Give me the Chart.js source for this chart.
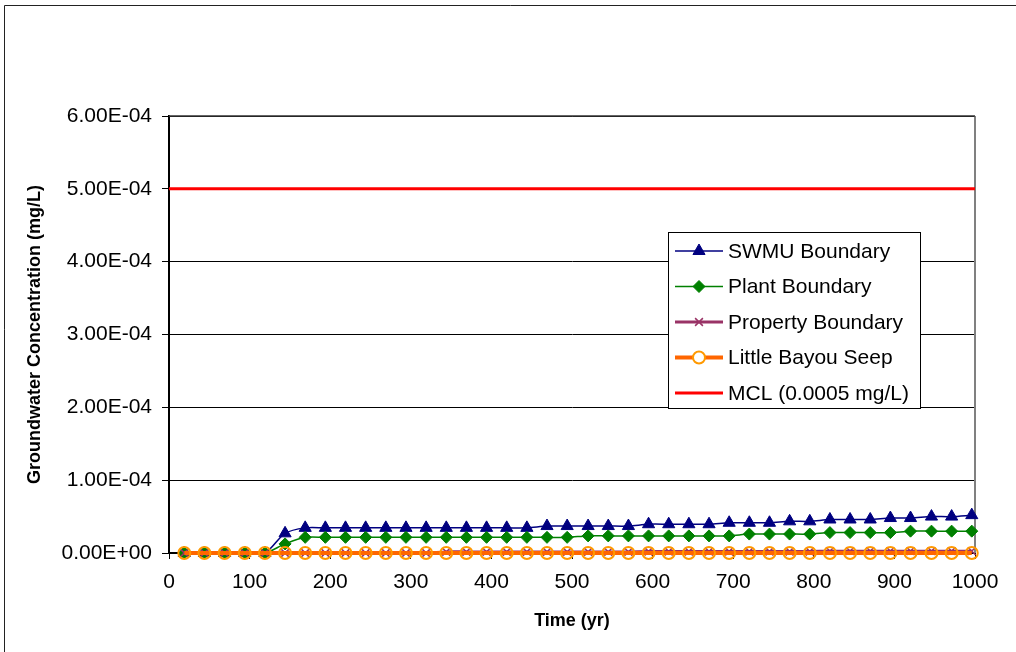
<!DOCTYPE html>
<html>
<head>
<meta charset="utf-8">
<script src="https://cdn.jsdelivr.net/npm/chart.js@4.4.1/dist/chart.umd.min.js"></script>
<style>
  html, body { margin: 0; padding: 0; background: #fff; }
  canvas { display: block; }
</style>
</head>
<body>
<canvas id="c" width="1016" height="652"></canvas>
<script>
// ---- data ----
const times = [19, 44, 69, 94, 119, 144, 169, 194, 219, 244, 269, 294, 319, 344, 369, 394, 419, 444, 469, 494,
               520, 545, 570, 595, 620, 645, 670, 695, 720, 745, 770, 795, 820, 845, 870, 895, 920, 946, 971, 996];
const swmuBoundary = [0, 0, 0, 0, 0, 2.7e-5,
  3.45e-5, 3.45e-5, 3.45e-5, 3.45e-5, 3.45e-5, 3.45e-5, 3.45e-5, 3.45e-5, 3.45e-5, 3.45e-5, 3.45e-5, 3.45e-5,
  3.7e-5, 3.7e-5, 3.7e-5, 3.7e-5, 3.7e-5,
  3.95e-5, 3.95e-5, 3.95e-5, 3.95e-5,
  4.15e-5, 4.15e-5, 4.15e-5,
  4.35e-5, 4.35e-5,
  4.6e-5, 4.6e-5, 4.6e-5,
  4.8e-5, 4.8e-5,
  5.0e-5, 5.0e-5,
  5.2e-5];
const plantBoundary = [0, 0, 0, 0, 0, 1.25e-5,
  2.15e-5, 2.15e-5, 2.15e-5, 2.15e-5, 2.15e-5, 2.15e-5, 2.15e-5, 2.15e-5, 2.15e-5, 2.15e-5, 2.15e-5, 2.15e-5, 2.15e-5, 2.15e-5,
  2.35e-5, 2.35e-5, 2.35e-5, 2.35e-5, 2.35e-5, 2.35e-5, 2.35e-5, 2.35e-5,
  2.6e-5, 2.6e-5, 2.6e-5, 2.6e-5,
  2.8e-5, 2.8e-5, 2.8e-5, 2.8e-5,
  3.0e-5, 3.0e-5, 3.0e-5, 3.0e-5];
const propertyBoundary = [0, 0, 0, 0, 0, 0, 0, 0, 0, 0, 0, 0, 0,
  1.5e-6, 1.5e-6, 1.5e-6, 1.5e-6, 1.5e-6, 1.5e-6, 1.5e-6, 1.5e-6, 1.5e-6, 1.5e-6,
  2e-6, 2e-6, 2e-6, 2e-6, 2e-6, 2e-6, 2e-6, 2e-6, 2e-6,
  2.5e-6, 2.5e-6, 2.5e-6, 2.5e-6, 2.5e-6, 2.5e-6, 2.5e-6, 2.5e-6];
const littleBayouSeep = [0, 0, 0, 0, 0, 0, 0, 0, 0, 0, 0, 0, 0, 0, 0, 0, 0, 0, 0, 0,
  0, 0, 0, 0, 0, 0, 0, 0, 0, 0, 0, 0, 0, 0, 0, 0, 0, 0, 0, 0];
const mclTimes = [0, 1000];
const mclValues = [0.0005, 0.0005];
const seriesNames = ['SWMU Boundary', 'Plant Boundary', 'Property Boundary', 'Little Bayou Seep', 'MCL (0.0005 mg/L)'];
const xTitle = 'Time (yr)';
const yTitle = 'Groundwater Concentration (mg/L)';

const FONT = "'Liberation Sans', Arial, sans-serif";

function pts(xs, ys) { return xs.map((x, i) => ({ x: x, y: ys[i] })); }
function fmtExp(v) {
  const s = Number(v).toExponential(2);
  const parts = s.split('e');
  const sign = parts[1][0];
  const d = parts[1].slice(1).padStart(2, '0');
  return parts[0] + 'E' + sign + d;
}

const datasets = [
  { label: seriesNames[0], data: pts(times, swmuBoundary), borderColor: '#000080', backgroundColor: '#000080',
    borderWidth: 1.5, pointStyle: 'triangle', pointRadius: 7, pointBorderWidth: 1, tension: 0.3, order: 5, clip: false },
  { label: seriesNames[1], data: pts(times, plantBoundary), borderColor: '#008000', backgroundColor: '#008000',
    borderWidth: 1.5, pointStyle: 'rectRot', pointRadius: 6, pointBorderWidth: 1, tension: 0.3, order: 4, clip: false },
  { label: seriesNames[2], data: pts(times, propertyBoundary), borderColor: '#993366', backgroundColor: '#993366',
    borderWidth: 3, pointStyle: 'crossRot', pointRadius: 5.5, pointBorderWidth: 1.5, tension: 0.3, order: 3, clip: false },
  { label: seriesNames[3], data: pts(times, littleBayouSeep), borderColor: '#FF6600', backgroundColor: 'rgba(0,0,0,0)',
    pointBorderColor: '#FF9900', borderWidth: 4, pointStyle: 'circle', pointRadius: 6, pointBorderWidth: 2, tension: 0.3, order: 2, clip: false },
  { label: seriesNames[4], data: pts(mclTimes, mclValues), borderColor: '#FF0000', backgroundColor: '#FF0000',
    borderWidth: 3, pointRadius: 0, order: 1, clip: false }
];

function drawMarker(ctx, style, x, y, r, fill, stroke, lw) {
  ctx.save();
  ctx.beginPath();
  ctx.lineWidth = lw;
  ctx.strokeStyle = stroke;
  ctx.fillStyle = fill;
  if (style === 'triangle') {
    ctx.moveTo(x, y - r);
    ctx.lineTo(x + r * 0.866, y + r * 0.5);
    ctx.lineTo(x - r * 0.866, y + r * 0.5);
    ctx.closePath(); ctx.fill(); ctx.stroke();
  } else if (style === 'rectRot') {
    ctx.moveTo(x, y - r); ctx.lineTo(x + r, y); ctx.lineTo(x, y + r); ctx.lineTo(x - r, y);
    ctx.closePath(); ctx.fill(); ctx.stroke();
  } else if (style === 'crossRot') {
    const d = r * 0.7071;
    ctx.moveTo(x - d, y - d); ctx.lineTo(x + d, y + d);
    ctx.moveTo(x + d, y - d); ctx.lineTo(x - d, y + d);
    ctx.stroke();
  } else if (style === 'circle') {
    ctx.arc(x, y, r, 0, Math.PI * 2);
    ctx.fillStyle = '#fff'; ctx.fill(); ctx.stroke();
  }
  ctx.restore();
}

const framePlugin = {
  id: 'frame',
  beforeDraw(chart) {
    const ctx = chart.ctx;
    ctx.save();
    ctx.fillStyle = '#fff';
    ctx.fillRect(0, 0, chart.width, chart.height);
    ctx.strokeStyle = '#222';
    ctx.lineWidth = 1;
    ctx.beginPath();
    ctx.moveTo(4.5, 1000); ctx.lineTo(4.5, 5.5); ctx.lineTo(1100, 5.5);
    ctx.stroke();
    ctx.restore();
  },
  beforeDatasetsDraw(chart) {
    const ctx = chart.ctx, a = chart.chartArea;
    ctx.save();
    ctx.strokeStyle = '#808080';
    ctx.lineWidth = 2;
    ctx.beginPath();
    ctx.moveTo(a.right, a.top); ctx.lineTo(a.right, a.bottom);
    ctx.stroke();
    ctx.strokeStyle = '#333';
    ctx.lineWidth = 1.5;
    ctx.beginPath();
    ctx.moveTo(a.left, a.top); ctx.lineTo(a.right, a.top);
    ctx.stroke();
    ctx.restore();
  }
};

const legendPlugin = {
  id: 'boxLegend',
  afterDraw(chart) {
    const ctx = chart.ctx;
    const bx = 668, by = 232, bw = 252, bh = 176;
    ctx.save();
    ctx.fillStyle = '#fff';
    ctx.fillRect(bx, by, bw, bh);
    ctx.strokeStyle = '#000';
    ctx.lineWidth = 1;
    ctx.strokeRect(bx + 0.5, by + 0.5, bw, bh);
    const rows = [251, 286.5, 322, 357.5, 393];
    chart.data.datasets.forEach((ds, i) => {
      const y = rows[i];
      ctx.strokeStyle = ds.borderColor;
      ctx.lineWidth = ds.borderWidth;
      ctx.beginPath();
      ctx.moveTo(675, y); ctx.lineTo(723, y);
      ctx.stroke();
      if (ds.pointRadius > 0) {
        drawMarker(ctx, ds.pointStyle, 699, y, ds.pointRadius,
          ds.backgroundColor, ds.pointBorderColor || ds.borderColor, ds.pointBorderWidth);
      }
      ctx.fillStyle = '#000';
      ctx.font = '21px ' + FONT;
      ctx.textAlign = 'left';
      ctx.textBaseline = 'middle';
      ctx.fillText(ds.label, 728, y + 1);
    });
    ctx.restore();
  }
};

new Chart(document.getElementById('c'), {
  type: 'line',
  data: { datasets: datasets },
  plugins: [framePlugin, legendPlugin],
  options: {
    responsive: false,
    animation: false,
    devicePixelRatio: 1,
    layout: { padding: { top: 116, right: 41, left: 0, bottom: 0 } },
    plugins: { legend: { display: false }, tooltip: { enabled: false } },
    elements: { line: { cubicInterpolationMode: 'default' } },
    scales: {
      x: {
        type: 'linear', min: 0, max: 1000,
        afterFit(s) { s.height = 99; },
        ticks: { stepSize: 100, autoSkip: false, maxRotation: 0, color: '#000', padding: 11,
                 callback: (v) => String(v),
                 font: { family: FONT, size: 21 } },
        grid: { drawOnChartArea: false, drawTicks: true, tickLength: 6, color: '#000', lineWidth: 1 },
        border: { display: true, color: '#000', width: 2 },
        title: { display: true, text: xTitle, color: '#000', padding: { top: 0, bottom: 20 },
                 font: { family: FONT, size: 18, weight: 'bold' } }
      },
      y: {
        type: 'linear', min: 0, max: 0.0006,
        afterFit(s) { s.width = 169; },
        ticks: { stepSize: 0.0001, color: '#000', padding: 10, callback: (v) => fmtExp(v),
                 font: { family: FONT, size: 21 } },
        grid: { drawOnChartArea: true, drawTicks: true, tickLength: 7, color: '#000', lineWidth: 1 },
        border: { display: true, color: '#000', width: 2 },
        title: { display: true, text: yTitle, color: '#000', padding: { top: 24, bottom: 0 },
                 font: { family: FONT, size: 18, weight: 'bold' } }
      }
    }
  }
});
</script>
</body>
</html>
